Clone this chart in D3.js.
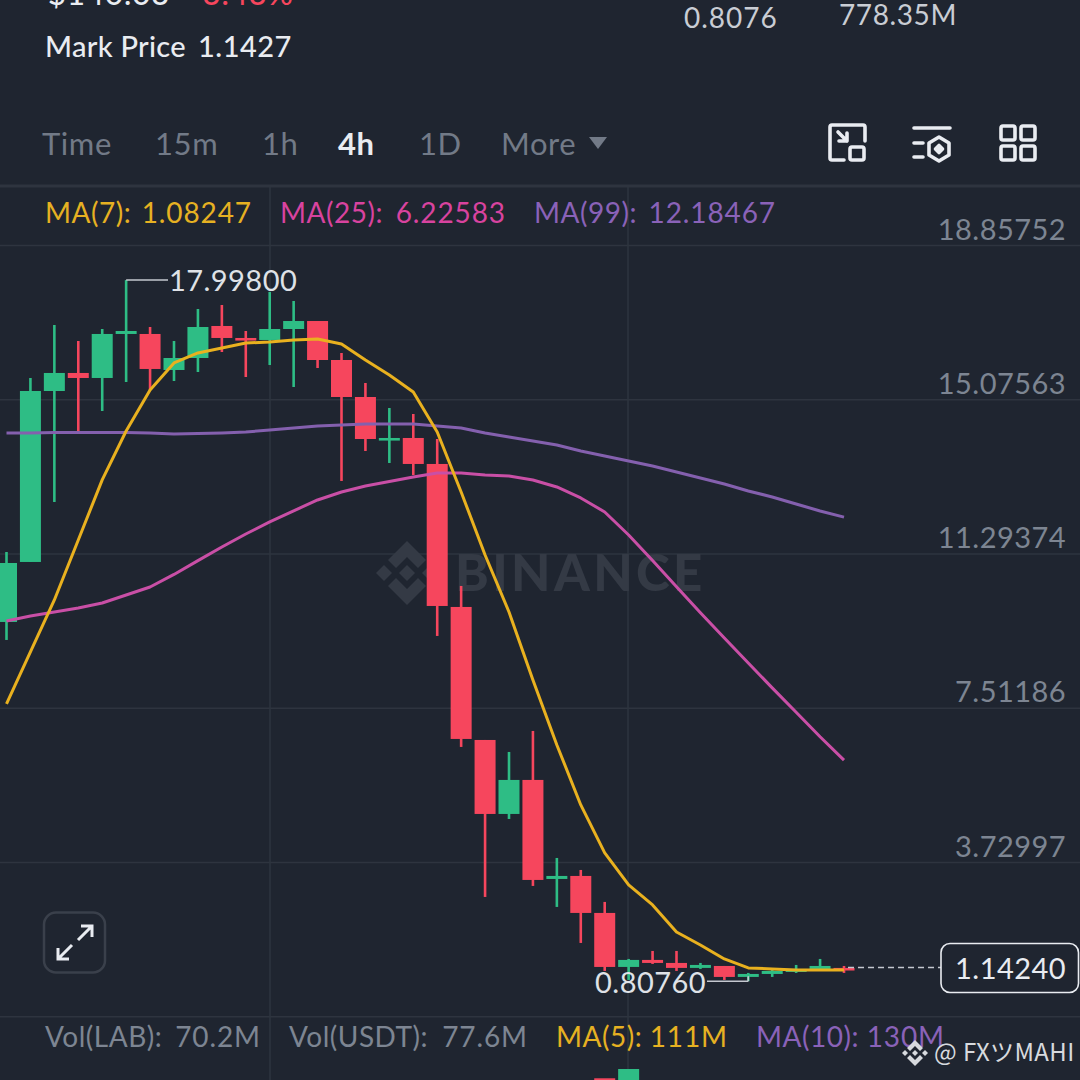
<!DOCTYPE html>
<html>
<head>
<meta charset="utf-8">
<script src="https://cdn.jsdelivr.net/npm/d3@7"></script>
<style>
  html, body { margin: 0; padding: 0; background: #1f2530; overflow: hidden; }
  svg { display: block; }
  text { font-family: Lato, "Noto Sans", sans-serif; }
</style>
</head>
<body>
<script>
// price ticks on the right
var priceTicks = [18.85752, 15.07563, 11.29374, 7.51186, 3.72997];
var bottomTick = -0.05192;

// candles, oldest first
var opens = [9.615, 11.086, 15.278, 15.720, 15.597, 16.676, 16.676, 15.793, 16.087, 16.872, 16.578, 16.529,
  16.798, 16.994, 16.038, 15.131, 14.101, 14.126, 13.489, 9.983, 6.722, 4.908, 5.742, 3.314,
  3.388, 2.481, 1.157, 1.329, 1.255, 1.133, 1.181, 0.912, 0.985, 1.034, 1.108, 1.133];
var closes = [11.061, 15.278, 15.720, 15.597, 16.676, 16.749, 15.818, 16.087, 16.847, 16.578, 16.529, 16.798,
  16.994, 16.038, 15.131, 14.101, 14.126, 13.489, 10.007, 6.747, 4.908, 5.742, 3.290, 3.388,
  2.481, 1.157, 1.329, 1.255, 1.133, 1.206, 0.912, 0.985, 1.059, 1.108, 1.181, 1.083];
var highs = [11.331, 15.597, 16.896, 16.504, 16.798, 17.998, 16.847, 16.504, 17.289, 17.387, 16.749, 17.705,
  17.485, 16.994, 16.210, 15.474, 14.861, 14.714, 14.101, 10.498, 6.722, 6.428, 6.943, 3.829,
  3.535, 2.751, 1.353, 1.549, 1.549, 1.255, 1.181, 1.010, 1.083, 1.206, 1.353, 1.181];
var lows = [9.174, 11.086, 12.557, 14.273, 14.788, 15.499, 15.303, 15.523, 15.744, 16.234, 15.621, 15.916,
  15.376, 15.842, 13.072, 13.807, 13.513, 13.219, 9.272, 6.551, 2.873, 4.785, 3.143, 2.628,
  1.745, 1.059, 0.838, 1.231, 1.059, 1.108, 0.838, 0.8076, 0.912, 1.010, 1.059, 1.010];

// moving averages
var ma7 = [7.605, 8.880, 10.154, 11.625, 13.100, 14.298, 15.303, 15.965, 16.210, 16.332, 16.455, 16.480,
  16.529, 16.553, 16.430, 16.038, 15.670, 15.254, 14.273, 12.802, 11.258, 9.860, 8.193, 6.600,
  5.129, 3.952, 3.167, 2.677, 2.015, 1.696, 1.353, 1.133, 1.108, 1.083, 1.083, 1.082];
var ma25 = [9.640, 9.762, 9.860, 9.958, 10.081, 10.277, 10.473, 10.780, 11.120, 11.454, 11.772, 12.067,
  12.340, 12.606, 12.802, 12.950, 13.060, 13.170, 13.268, 13.268, 13.219, 13.194, 13.096, 12.925,
  12.655, 12.312, 11.748, 11.120, 10.480, 9.840, 9.220, 8.610, 8.000, 7.400, 6.800, 6.226];
var ma99 = [14.249, 14.249, 14.261, 14.261, 14.261, 14.261, 14.249, 14.224, 14.237, 14.249, 14.273, 14.322,
  14.371, 14.420, 14.445, 14.469, 14.469, 14.469, 14.420, 14.371, 14.249, 14.150, 14.052, 13.954,
  13.807, 13.685, 13.562, 13.440, 13.292, 13.145, 12.998, 12.827, 12.680, 12.508, 12.336, 12.185];

// volume, only the two tallest bars reach into the picture
var volumeIndex = [25, 26];
var volumes = [393.5, 400];

var lastPrice = 1.1424;
var highIndex = 5, lowIndex = 31;

var tabs = ["Time", "15m", "1h", "4h", "1D", "More"];
var tabX = [42, 155, 262, 338, 419, 501];

var w = 1080, h = 1080;
var bg = "#1f2530", grid = "#2e343f", up = "#2ebd85", down = "#f6465d";
var yellow = "#e9b11f", pink = "#c94fa6", purple = "#8460ae", grey = "#7d8592", white = "#e9ecf1";

var svg = d3.select("body").append("svg").attr("width", w).attr("height", h);

svg.append("rect").attr("width", w).attr("height", h).attr("fill", bg);

var x = d3.scaleLinear().domain([0, 35]).range([6.5, 844]);
var y = d3.scaleLinear().domain([priceTicks[0], priceTicks[4]]).range([245, 862]);
var yVol = d3.scaleLinear().domain([0, 400]).range([1640, 1069]);

function text(str, px, py, size, fill, weight, anchor, spacing) {
  return svg.append("text").attr("x", px).attr("y", py)
    .attr("font-size", size).attr("fill", fill)
    .attr("font-weight", weight || 400)
    .attr("text-anchor", anchor || "start")
    .attr("letter-spacing", spacing || 0)
    .text(str);
}

// label on the left, value pinned by its right end
function legend(label, value, lx, vx, py, fill) {
  text(label, lx, py, 28, fill, 400, "start", 0.5);
  text(value, vx, py, 28, fill, 400, "end", 0.9);
}

// header, cut off by the top of the picture
text("$140.03", 48, 5, 31, white, 500, "start", 1);
text("-3.43%", 190, 5, 31, down, 500, "start", 1);
text("0.8076", 684, 28, 28, "#c9cdd4", 400, "start", 1);
text("778.35M", 839, 25, 28, "#c9cdd4", 400, "start", 0.6);
text("Mark Price", 45, 57, 29, white, 500, "start", 0.3);
text("1.1427", 198, 57, 29, white, 500, "start", 0.5);

// tabs
tabs.forEach(function(t, i) {
  text(t, tabX[i], 155, 31, t == "4h" ? white : "#727a87", t == "4h" ? 700 : 400, "start", 0.6);
});
svg.append("path").attr("d", "M589 137h18l-9 12z").attr("fill", "#727a87");

// toolbar icons
var icons = svg.append("g").attr("fill", "none").attr("stroke", white)
  .attr("stroke-width", 3.6).attr("stroke-linecap", "round").attr("stroke-linejoin", "round");
icons.append("path").attr("d", "M844 160h-12a2 2 0 0 1-2-2v-31a2 2 0 0 1 2-2h31a2 2 0 0 1 2 2v14");
icons.append("rect").attr("x", 850).attr("y", 147).attr("width", 14).attr("height", 13).attr("rx", 2);
icons.append("path").attr("d", "M838 132l9 9M847 133v8h-8");
icons.append("path").attr("d", "M914 128h36M914 143h9M914 157h9");
icons.append("path").attr("d", "M939 137l10 6v12l-10 6l-10-6v-12z");
icons.append("path").attr("d", "M939 145.500l3.500 3.500l-3.500 3.500l-3.500-3.500z").attr("fill", white);
[1001, 1021].forEach(function(a) {
  [126, 146].forEach(function(b) {
    icons.append("rect").attr("x", a).attr("y", b).attr("width", 14).attr("height", 14).attr("rx", 2);
  });
});

// grid
svg.append("line").attr("x1", 0).attr("x2", w).attr("y1", 186).attr("y2", 186)
  .attr("stroke", "#2e343f").attr("stroke-width", 3);

var gridAxis = d3.axisRight(y).tickValues(priceTicks.concat([bottomTick])).tickSize(w).tickFormat("");
var gridG = svg.append("g").call(gridAxis);
gridG.select(".domain").remove();
gridG.selectAll("line").attr("stroke", grid).attr("stroke-width", 1.5);

[270, 628].forEach(function(gx) {
  svg.append("line").attr("x1", gx).attr("x2", gx).attr("y1", 187).attr("y2", h)
    .attr("stroke", grid).attr("stroke-width", 1.5);
});

// watermark
var wm = svg.append("g").attr("fill", "#343a45");
wm.append("path").attr("d", "M407 541l19 19l-8 8l-11-11l-11 11l-8-8z");
wm.append("path").attr("d", "M407 605l19-19l-8-8l-11 11l-11-11l-8 8z");
wm.append("path").attr("d", "M407 565l8 8l-8 8l-8-8z");
wm.append("path").attr("d", "M384 565l8 8l-8 8l-8-8z");
wm.append("path").attr("d", "M430 565l8 8l-8 8l-8-8z");
svg.append("text").attr("x", 455).attr("y", 591).attr("font-size", 51).attr("font-weight", 900)
  .attr("letter-spacing", 3.4).attr("fill", "#343a45").text("BINANCE");

// volume bars
svg.selectAll("rect.vol").data(volumeIndex).enter().append("rect")
  .attr("class", "vol")
  .attr("x", function(d) { return x(d) - 10.5; })
  .attr("width", 21)
  .attr("y", function(d, i) { return yVol(volumes[i]); })
  .attr("height", function(d, i) { return yVol(0) - yVol(volumes[i]); })
  .attr("fill", function(d) { return closes[d] >= opens[d] ? up : down; });

// candles
var idx = d3.range(opens.length);
var color = function(i) { return closes[i] >= opens[i] ? up : down; };

svg.selectAll("line.wick").data(idx).enter().append("line")
  .attr("class", "wick")
  .attr("x1", function(i) { return x(i); })
  .attr("x2", function(i) { return x(i); })
  .attr("y1", function(i) { return y(highs[i]); })
  .attr("y2", function(i) { return y(lows[i]); })
  .attr("stroke", color)
  .attr("stroke-width", 2.6);

svg.selectAll("rect.body").data(idx).enter().append("rect")
  .attr("class", "body")
  .attr("x", function(i) { return x(i) - 10.5; })
  .attr("width", 21)
  .attr("y", function(i) { return y(Math.max(opens[i], closes[i])); })
  .attr("height", function(i) { return Math.max(2.6, Math.abs(y(opens[i]) - y(closes[i]))); })
  .attr("fill", color);

// moving average lines
var line = d3.line().x(function(d, i) { return x(i); }).y(function(d) { return y(d); });
[[ma99, purple], [ma25, pink], [ma7, yellow]].forEach(function(s) {
  svg.append("path").attr("d", line(s[0])).attr("fill", "none")
    .attr("stroke", s[1]).attr("stroke-width", 3).attr("stroke-linejoin", "round");
});

// price labels
var priceAxis = d3.axisLeft(y).tickValues(priceTicks).tickSize(0).tickPadding(0)
  .tickFormat(d3.format(".5f"));
var priceG = svg.append("g").attr("transform", "translate(1066,0)").call(priceAxis);
priceG.select(".domain").remove();
priceG.selectAll("text").attr("font-size", 29).attr("fill", grey).attr("dy", "-0.2em")
  .attr("letter-spacing", 0.45).style("font-family", "Lato, sans-serif");

// high / low markers
svg.append("line").attr("x1", x(highIndex)).attr("x2", 168).attr("y1", y(highs[highIndex])).attr("y2", y(highs[highIndex]))
  .attr("stroke", "#c4c8cf").attr("stroke-width", 1.6);
text(d3.format(".5f")(highs[highIndex]), 169, y(highs[highIndex]) + 11, 29, "#dfe2e7", 400, "start", 0.45);
svg.append("line").attr("x1", 707).attr("x2", x(lowIndex)).attr("y1", y(lows[lowIndex])).attr("y2", y(lows[lowIndex]))
  .attr("stroke", "#c4c8cf").attr("stroke-width", 1.6);
svg.append("line").attr("x1", x(lowIndex)).attr("x2", x(lowIndex)).attr("y1", y(lows[lowIndex])).attr("y2", y(lows[lowIndex]) - 5)
  .attr("stroke", "#c4c8cf").attr("stroke-width", 1.6);
text(d3.format(".5f")(lows[lowIndex]), 706, y(lows[lowIndex]) + 12, 29, "#dfe2e7", 400, "end", 0.45);

// last price
svg.append("line").attr("x1", x(35) + 4).attr("x2", 941).attr("y1", y(lastPrice)).attr("y2", y(lastPrice))
  .attr("stroke", "#c4c8cf").attr("stroke-width", 1.6).attr("stroke-dasharray", "6 4");
svg.append("rect").attr("x", 941).attr("y", 943.500).attr("width", 137.500).attr("height", 49).attr("rx", 9)
  .attr("fill", bg).attr("stroke", white).attr("stroke-width", 1.6);
text(d3.format(".5f")(lastPrice), 1066, 979, 29, white, 400, "end", 0.45);

// legends
legend("MA(7):", "1.08247", 45, 252, 223, "#e6b122");
legend("MA(25):", "6.22583", 280, 506, 223, "#d8439f");
legend("MA(99):", "12.18467", 534, 776, 223, "#8a62b8");
legend("Vol(LAB):", "70.2M", 45, 261, 1047, grey);
legend("Vol(USDT):", "77.6M", 289, 528, 1047, grey);
legend("MA(5):", "111M", 556, 728, 1047, "#e6b122");
legend("MA(10):", "130M", 756, 945, 1047, "#8a62b8");

// expand button
svg.append("rect").attr("x", 44).attr("y", 912.500).attr("width", 61).attr("height", 60).attr("rx", 12)
  .attr("fill", bg).attr("stroke", "#3a404b").attr("stroke-width", 2.5);
svg.append("path").attr("d", "M58 959l14-14M58 948v11h11M92 926l-14 14M81 926h11v11")
  .attr("fill", "none").attr("stroke", white).attr("stroke-width", 3);

// credit
var cr = svg.append("g").attr("fill", "#d7dade");
cr.append("path").attr("d", "M915 1040l8 8l-3 3l-5-5l-5 5l-3-3z");
cr.append("path").attr("d", "M915 1066l8-8l-3-3l-5 5l-5-5l-3 3z");
cr.append("path").attr("d", "M915 1050l3 3l-3 3l-3-3z");
cr.append("path").attr("d", "M905 1050l3 3l-3 3l-3-3z");
cr.append("path").attr("d", "M925 1050l3 3l-3 3l-3-3z");
text("@ FXツMAHI", 934, 1061, 24, "#d7dade", 400, "start", 0.4).style("font-family", "'Noto Sans CJK JP', sans-serif");
</script>
</body>
</html>
